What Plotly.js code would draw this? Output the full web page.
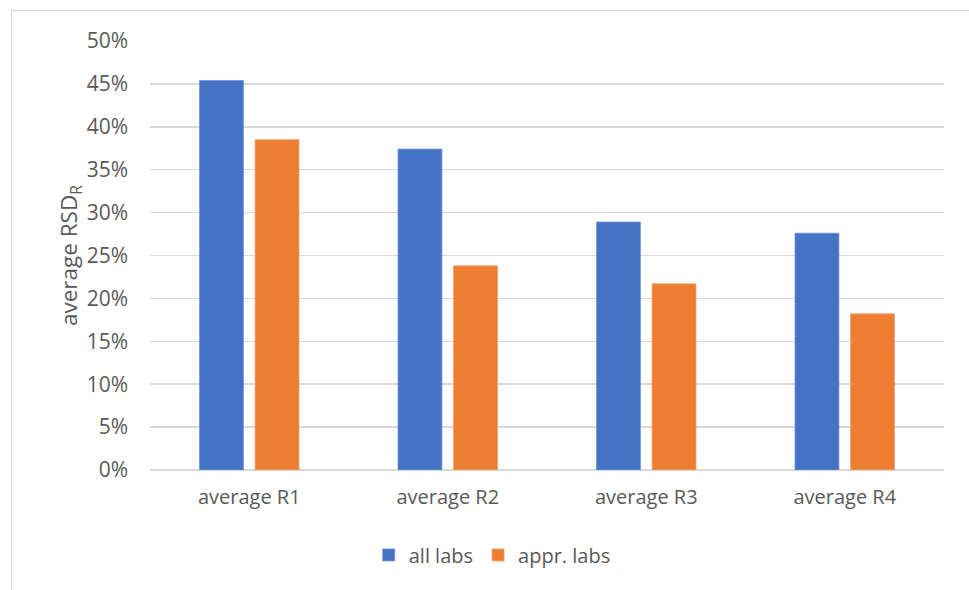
<!DOCTYPE html>
<html>
<head>
<meta charset="utf-8">
<script src="https://cdn.plot.ly/plotly-3.0.1.min.js"></script>
<style>
  html, body { margin: 0; padding: 0; background: #fff; }
  #wrap { position: relative; width: 969px; height: 590px; }
  #chart { width: 969px; height: 590px; }
  #frame { position: absolute; left: 11px; top: 10px; width: 980px; height: 600px;
           border-left: 1.5px solid #d9d9d9; border-top: 1.5px solid #d9d9d9; pointer-events: none; }
</style>
</head>
<body>
<div id="wrap">
  <div id="chart"></div>
  <div id="frame"></div>
</div>
<script>
const categories = ["average R1", "average R2", "average R3", "average R4"];
const allLabs = [0.454, 0.374, 0.289, 0.276];
const apprLabs = [0.385, 0.238, 0.217, 0.182];
const seriesNames = ["all labs", "appr. labs"];
const yTicks = [0, 0.05, 0.10, 0.15, 0.20, 0.25, 0.30, 0.35, 0.40, 0.45, 0.50];

const fam = "'Open Sans', 'Noto Sans', sans-serif";
const grey = "#595959";

const traces = [
  { type: "bar", name: seriesNames[0], x: categories, y: allLabs,
    marker: { color: "#4472C4", line: { color: "#6f93d6", width: 0.8 } }, hoverinfo: "skip" },
  { type: "bar", name: seriesNames[1], x: categories, y: apprLabs,
    marker: { color: "#ED7D31", line: { color: "#f3a06a", width: 0.8 } }, hoverinfo: "skip" }
];

const layout = {
  width: 969, height: 590,
  margin: { l: 150, r: 25, t: 41, b: 120 },
  paper_bgcolor: "#ffffff", plot_bgcolor: "#ffffff",
  font: { family: fam, color: grey, size: 18 },
  barmode: "group",
  bargap: 0.44,
  bargroupgap: 0.21,
  showlegend: true,
  legend: { orientation: "h", x: 0.431, xanchor: "center", y: -0.198, yanchor: "middle",
            font: { family: fam, color: grey, size: 20 }, traceorder: "normal",
            itemwidth: 30 },
  xaxis: { type: "category", showgrid: false, zeroline: false, showline: false,
           ticks: "", ticklabelstandoff: 13,
           tickfont: { family: fam, color: grey, size: 20 } },
  yaxis: { range: [0, 0.5], tickvals: yTicks, tickformat: ".0%",
           showgrid: true, gridcolor: "#d9d9d9", gridwidth: 1.5,
           zeroline: true, zerolinecolor: "#d9d9d9", zerolinewidth: 1.5,
           showline: false, ticks: "", ticklabelstandoff: 21,
           tickfont: { family: fam, color: grey, size: 21 },
           title: { text: "average RSD<sub>R</sub>", standoff: 2,
                    font: { family: fam, color: grey, size: 22.5 } } }
};

Plotly.newPlot("chart", traces, layout, { staticPlot: true, displayModeBar: false });
</script>
</body>
</html>
